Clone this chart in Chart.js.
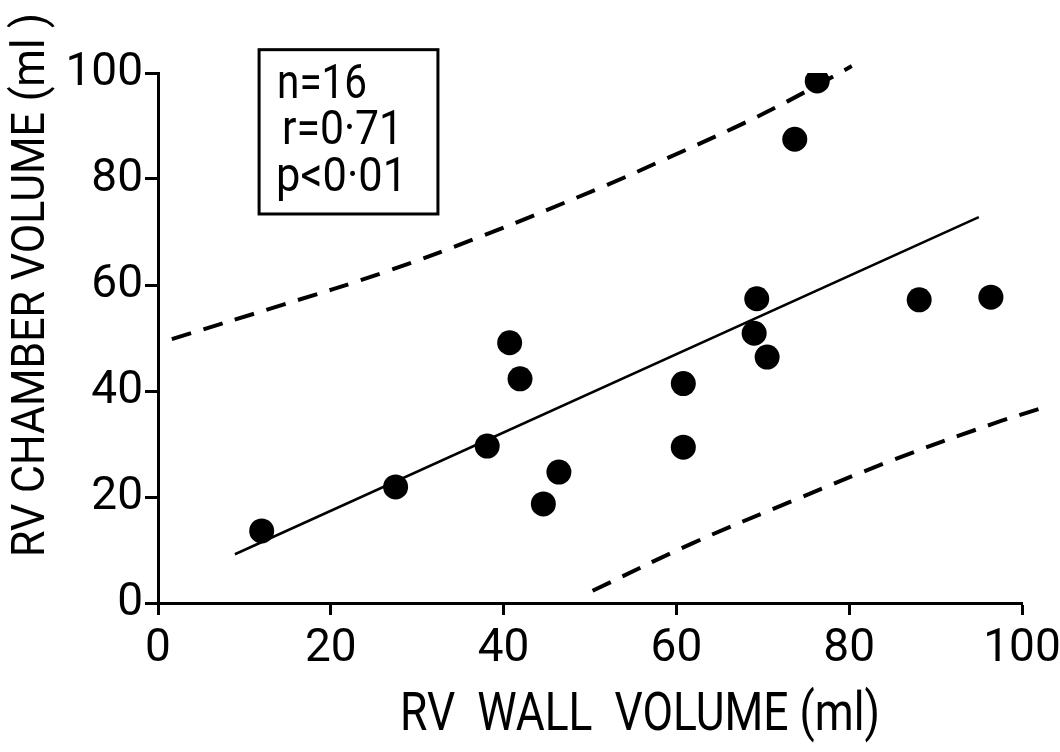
<!DOCTYPE html>
<html>
<head>
<meta charset="utf-8">
<script src="https://cdn.jsdelivr.net/npm/chart.js@4"></script>
<style>
  html, body { margin: 0; padding: 0; background: #ffffff; }
  #wrap { width: 1060px; height: 752px; position: relative; background: #ffffff; }
  canvas { display: block; }
</style>
</head>
<body>
<div id="wrap"><canvas id="c" width="1060" height="752"></canvas></div>
<script>
// ---- data ----
const wallVolume    = [12.0, 27.5, 38.1, 40.7, 41.9, 44.6, 46.4, 60.8, 60.8, 69.0, 69.3, 70.5, 73.7, 76.3, 88.1, 96.4];
const chamberVolume = [13.6, 21.9, 29.6, 49.1, 42.3, 18.7, 24.7, 41.4, 29.4, 50.9, 57.4, 46.4, 87.5, 98.5, 57.2, 57.7];

const regressionX = [8.9, 95.0];
const regressionY = [9.2, 72.8];

const upperBandX = [1.6, 14.5, 26.0, 37.6, 52.0, 58.9, 66.6, 72.8, 80.3];
const upperBandY = [49.8, 56.3, 62.3, 69.3, 78.9, 83.9, 89.6, 94.6, 101.3];

const lowerBandX = [50.3, 61.9, 73.5, 85.1, 96.6, 102.3];
const lowerBandY = [2.3, 11.3, 19.3, 27.0, 33.8, 36.8];

const xTicks = [0, 20, 40, 60, 80, 100];
const yTicks = [0, 20, 40, 60, 80, 100];

const statsLines = ['n=16', 'r=0·71', 'p<0·01'];
const xTitle = 'RV  WALL  VOLUME (ml)';
const yTitle = 'RV CHAMBER VOLUME (ml )';

const FONT = "Roboto, 'DejaVu Sans', sans-serif";

function pts(xs, ys) { return xs.map((x, i) => ({ x: x, y: ys[i] })); }

// draw text squeezed horizontally to a target width
function fitText(ctx, text, x, y, targetW, align) {
  const w = ctx.measureText(text).width;
  const sx = Math.min(1, targetW / w);
  ctx.save();
  ctx.translate(x, y);
  ctx.scale(sx, 1);
  ctx.textAlign = align;
  ctx.fillText(text, 0, 0);
  ctx.restore();
}

const annotations = {
  id: 'annotations',
  afterDraw(chart) {
    const ctx = chart.ctx;
    const xs = chart.scales.x, ys = chart.scales.y;
    ctx.save();
    ctx.fillStyle = '#000';
    ctx.strokeStyle = '#000';
    // stats box
    const bx0 = xs.getPixelForValue(11.7), bx1 = xs.getPixelForValue(32.4);
    const by0 = ys.getPixelForValue(104.4), by1 = ys.getPixelForValue(73.4);
    ctx.lineWidth = 3;
    ctx.strokeRect(bx0, by0, bx1 - bx0, by1 - by0);
    ctx.font = '49px ' + FONT;
    ctx.textBaseline = 'alphabetic';
    const offs = [[18, 48, 90], [23, 94, 121], [17, 141, 131]];
    statsLines.forEach((t, i) => fitText(ctx, t, bx0 + offs[i][0], by0 + offs[i][1], offs[i][2], 'left'));
    // x title
    ctx.font = '53px ' + FONT;
    ctx.textBaseline = 'middle';
    fitText(ctx, xTitle, 640, 717, 480, 'center');
    // y title
    ctx.translate(32, 285);
    ctx.rotate(-Math.PI / 2);
    ctx.font = '46px ' + FONT;
    fitText(ctx, yTitle, 0, 0, 544, 'center');
    ctx.restore();
  }
};

new Chart(document.getElementById('c'), {
  type: 'scatter',
  data: {
    datasets: [
      {
        label: 'data',
        data: pts(wallVolume, chamberVolume),
        backgroundColor: '#000',
        borderWidth: 0,
        pointRadius: 12.5,
        pointHoverRadius: 12.5,
        order: 0
      },
      {
        type: 'line',
        label: 'regression',
        data: pts(regressionX, regressionY),
        borderColor: '#000',
        borderWidth: 2.5,
        pointRadius: 0,
        fill: false,
        order: 1
      },
      {
        type: 'line',
        label: 'upper',
        data: pts(upperBandX, upperBandY),
        borderColor: '#000',
        borderWidth: 4,
        borderDash: [20, 13],
        borderCapStyle: 'butt',
        pointRadius: 0,
        tension: 0.4,
        fill: false,
        clip: false,
        order: 2
      },
      {
        type: 'line',
        label: 'lower',
        data: pts(lowerBandX, lowerBandY),
        borderColor: '#000',
        borderWidth: 4,
        borderDash: [20, 13],
        borderCapStyle: 'butt',
        pointRadius: 0,
        tension: 0.4,
        fill: false,
        clip: false,
        order: 2
      }
    ]
  },
  options: {
    responsive: false,
    animation: false,
    devicePixelRatio: 1,
    layout: { padding: { top: 73, right: 38, left: 0, bottom: 0 } },
    plugins: { legend: { display: false }, tooltip: { enabled: false } },
    scales: {
      x: {
        type: 'linear',
        min: 0, max: 100,
        afterBuildTicks(scale) { scale.ticks = xTicks.map(v => ({ value: v })); },
        afterFit(scale) { scale.height = 149; scale.paddingLeft = 0; scale.paddingRight = 0; },
        border: { display: true, color: '#000', width: 3 },
        grid: { drawOnChartArea: false, drawTicks: true, tickLength: 12, tickWidth: 3, tickColor: '#000' },
        ticks: { color: '#000', padding: 7, maxRotation: 0, font: { family: FONT, size: 46 } }
      },
      y: {
        type: 'linear',
        min: 0, max: 100,
        afterBuildTicks(scale) { scale.ticks = yTicks.map(v => ({ value: v })); },
        afterFit(scale) { scale.width = 158; scale.paddingTop = 0; scale.paddingBottom = 0; },
        border: { display: true, color: '#000', width: 3 },
        grid: { drawOnChartArea: false, drawTicks: true, tickLength: 13, tickWidth: 3, tickColor: '#000' },
        ticks: { color: '#000', padding: 2, font: { family: FONT, size: 46 } }
      }
    }
  },
  plugins: [annotations]
});
</script>
</body>
</html>
